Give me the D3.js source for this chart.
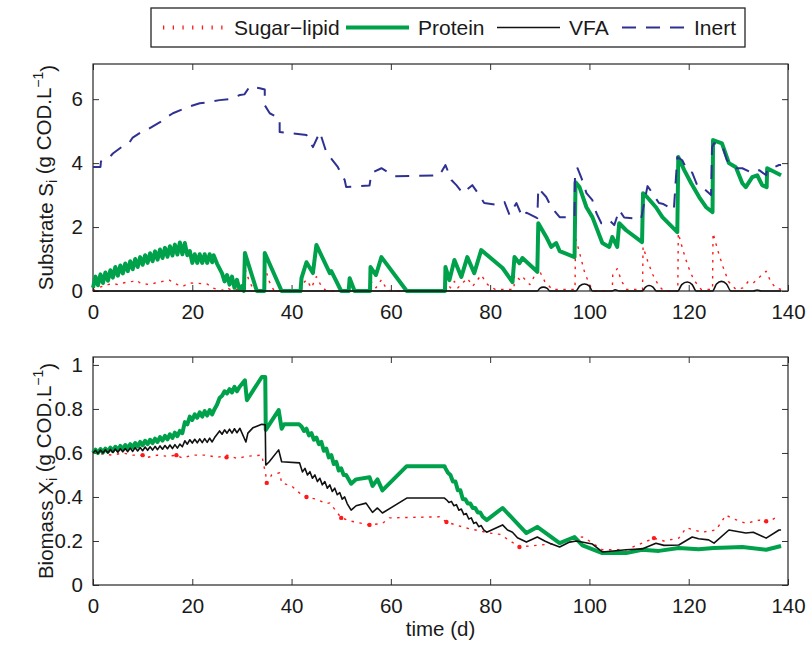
<!DOCTYPE html>
<html>
<head>
<meta charset="utf-8">
<script src="https://cdn.jsdelivr.net/npm/d3@7"></script>
<style>
  body { margin: 0; background: #fff; }
  text { font-family: "Liberation Sans", Arial, Helvetica, sans-serif; fill: #1a1a1a; }
</style>
</head>
<body>
<div id="chart"></div>
<script>
// ---- data: [time (d), value] ----
const xTicks = [0, 20, 40, 60, 80, 100, 120, 140];
const substrateTicks = [0, 2, 4, 6];
const biomassTicks = [0, 0.2, 0.4, 0.6, 0.8, 1];
const legendNames = ["Sugar\u2212lipid", "Protein", "VFA", "Inert"];

const substrateSugar = [
  [0, 0], [1, 0.1], [2, 0.15], [3, 0.2], [4, 0.24], [5, 0.2], [6, 0.25], [7, 0.28], [8, 0.3],
  [8.7, 0.34], [9.5, 0.25], [10.5, 0.22], [11.5, 0.2], [12.5, 0.25], [13.5, 0.28], [14.5, 0.32],
  [15.4, 0.34], [16, 0.28], [17, 0.2], [18, 0.14], [19.5, 0.25], [21, 0.24], [23, 0.22], [24, 0.1],
  [25, 0.05], [26, 0.02], [27, 0.1], [28, 0.02], [29, 0.05], [30.5, 0], [30.6, 0.7], [31.5, 0.3],
  [32.5, 0], [34.5, 0], [34.6, 0.75], [35.5, 0.3], [36.5, 0], [42, 0], [42.1, 0.2], [43, 0.35],
  [44, 0.1], [45, 0.45], [46, 0.15], [47, 0], [55.9, 0], [56, 0.3], [57, 0.1], [58.1, 0.35],
  [59, 0.1], [60, 0], [71, 0], [71.1, 0.3], [72, 0.1], [72.8, 0.3], [73.5, 0.1], [75.4, 0.4],
  [76.5, 0.15], [78.2, 0.5], [79.5, 0.2], [81, 0.05], [84.8, 0.05], [84.9, 0.5], [86, 0.35],
  [86.5, 0.45], [88, 0.2], [89.7, 0.7], [91, 0.3], [92.5, 0.05], [97.1, 0.05], [97.2, 1.66],
  [98, 1.2], [99, 0.6], [100, 0.2], [101, 0], [104.6, 0], [104.7, 0.5], [105.6, 0.7], [106.5, 0.3],
  [107.5, 0.05], [110.7, 0.05], [110.8, 1.38], [111.8, 0.9], [112.8, 0.5], [114, 0.15], [115, 0],
  [117.8, 0], [117.9, 1.81], [118.8, 1.3], [119.8, 0.8], [121, 0.35], [122.5, 0.05], [124.8, 0.05],
  [124.9, 1.81], [125.8, 1.3], [126.8, 0.8], [128, 0.3], [129.5, 0.05], [131, 0.1], [132, 0.3],
  [133, 0.25], [134, 0.4], [135.6, 0.62], [136.5, 0.3], [137.5, 0.1], [138.6, 0.05]
];

const substrateProtein = [
  [0, 0.1], [0.5, 0.45], [1, 0.18], [1.5, 0.52], [2, 0.25], [2.5, 0.58], [3, 0.32], [3.5, 0.65],
  [4, 0.42], [4.5, 0.75], [5, 0.48], [5.5, 0.8], [6, 0.55], [6.5, 0.86], [7, 0.62], [7.5, 0.93],
  [8, 0.68], [8.5, 1.0], [9, 0.75], [9.5, 1.06], [10, 0.82], [10.5, 1.12], [11, 0.88], [11.5, 1.18],
  [12, 0.93], [12.5, 1.24], [13, 0.98], [13.5, 1.3], [14, 1.03], [14.5, 1.35], [15, 1.07], [15.5, 1.4],
  [16, 1.11], [16.5, 1.45], [17, 1.14], [17.5, 1.52], [18, 1.15], [18.5, 1.5], [19, 1.12], [19.5, 1.25],
  [20, 0.88], [20.5, 1.15], [21, 0.88], [21.5, 1.15], [22, 0.88], [22.5, 1.15], [23, 0.88], [23.5, 1.15],
  [24, 0.9], [24.3, 1.12], [25, 0.85], [26, 0.55], [26.5, 0.3], [27, 0.5], [27.5, 0.2], [28, 0.45],
  [28.5, 0.1], [29, 0.35], [29.5, 0.05], [30, 0.15], [30.4, 0], [30.6, 1.19], [33, 0], [34.5, 0],
  [34.6, 1.19], [38, 0], [41.8, 0], [42, 0.4], [43, 0.9], [44.3, 0.56], [45, 1.44], [47.7, 0.56],
  [48, 0.62], [50, 0], [51.5, 0], [51.7, 0.4], [52.7, 0], [55.8, 0], [55.9, 0.75], [57, 0.5],
  [58.1, 1.06], [63.2, 0], [70.9, 0], [71, 0.75], [71.8, 0.34], [72.8, 0.97], [74.2, 0.44],
  [75.4, 1.06], [76.8, 0.56], [78.2, 1.28], [82.5, 0.72], [84.5, 0.28], [84.9, 1.06], [85.9, 0.87],
  [86.5, 1.03], [89.5, 0.6], [89.7, 2.12], [91.3, 1.69], [92.3, 1.38], [93.3, 1.5], [94, 1.25],
  [97, 1.06], [97.2, 3.4], [98, 3.25], [99.4, 2.62], [100.6, 2.31], [102.6, 1.5], [104, 1.38],
  [104.6, 1.69], [105.6, 1.38], [106, 2.12], [107.4, 1.9], [110.6, 1.53], [110.8, 3.06], [111.6, 2.94],
  [113.4, 2.62], [114.7, 2.31], [117.7, 1.84], [117.9, 4.19], [119.1, 3.78], [120.5, 3.37],
  [122.1, 2.94], [123.5, 2.62], [124.8, 2.47], [124.9, 4.72], [126.7, 4.62], [128.1, 4.0],
  [129.5, 3.87], [130.8, 3.37], [131.5, 3.25], [132.8, 3.56], [133.8, 3.62], [134.8, 3.31],
  [135.7, 3.25], [135.8, 3.84], [138.6, 3.62]
];

const substrateVFA = [
  [0, 0], [89.5, 0], [90, 0.08], [90.7, 0.12], [91.5, 0.08], [92, 0], [97.3, 0], [98, 0.15],
  [99, 0.22], [100, 0.15], [100.6, 0], [104.5, 0], [105.2, 0.04], [106, 0], [110.6, 0], [111.3, 0.12],
  [112, 0.17], [112.8, 0.12], [113.5, 0], [117.8, 0], [118.6, 0.2], [119.7, 0.28], [120.7, 0.2],
  [121.5, 0], [124.8, 0], [125.6, 0.22], [126.6, 0.3], [127.6, 0.22], [128.5, 0], [133, 0],
  [133.8, 0.03], [134.6, 0], [138.6, 0]
];

const substrateInert = [
  [0, 3.88], [1.5, 3.88], [1.6, 4.05], [3.4, 4.19], [4, 4.3], [6, 4.53], [7.4, 4.66], [8, 4.8],
  [10, 5.0], [11, 5.05], [13.5, 5.28], [14.5, 5.4], [16.1, 5.56], [18.1, 5.69], [19, 5.75],
  [21.5, 5.87], [23, 5.9], [25.5, 5.97], [27.5, 6.0], [29.6, 6.13], [30.5, 6.15], [31.6, 6.4],
  [33.6, 6.34], [34.6, 6.3], [34.6, 5.81], [35.6, 5.56], [37.6, 5.4], [37.6, 4.97], [43, 4.88],
  [44.3, 4.5], [45.7, 4.97], [47, 4.34], [49.3, 3.88], [50.7, 3.47], [51, 3.25], [55.7, 3.3],
  [56.1, 3.69], [58.1, 3.84], [60.8, 3.59], [69.8, 3.62], [71, 3.94], [72.2, 3.47], [73.2, 3.31],
  [74.5, 3.06], [76.4, 3.31], [77.4, 3.09], [78.8, 2.75], [81.5, 2.69], [82.9, 2.78], [83.9, 2.38],
  [85.3, 2.75], [86.5, 2.31], [87.3, 2.45], [89.5, 2.28], [89.7, 3.22], [91.3, 2.94], [92.3, 2.63],
  [94, 2.31], [97, 2.31], [97.1, 3.78], [97.6, 3.84], [98.4, 3.53], [99.4, 3.06], [100.6, 2.84],
  [101.4, 2.44], [102.4, 2.12], [104, 2.22], [105, 2.06], [106, 2.53], [107, 2.3], [110.4, 2.25],
  [111.7, 3.28], [112.7, 3.06], [114, 2.75], [114.9, 2.72], [117, 2.53], [117.7, 4.19], [118.7, 4.09],
  [119.7, 3.78], [120.7, 3.7], [121.7, 3.31], [122.7, 3.25], [124.5, 3.0], [124.7, 4.5], [125.1, 4.62],
  [126.7, 4.56], [127.7, 4.09], [129.5, 3.84], [130.8, 3.84], [132.8, 3.69], [134.2, 3.78],
  [135.6, 3.62], [135.8, 3.78], [138.2, 3.94], [138.6, 3.94]
];

const biomassSugar = [
  [0, 0.6], [2, 0.595], [4, 0.59], [6, 0.6], [8, 0.59], [10, 0.59], [11, 0.58], [13, 0.59],
  [15, 0.585], [16.8, 0.59], [18, 0.577], [20, 0.59], [22.9, 0.59], [25, 0.58], [27, 0.59],
  [29, 0.575], [31, 0.585], [34, 0.59], [34.8, 0.5], [35, 0.464], [36, 0.5], [37.6, 0.51],
  [38, 0.464], [40, 0.45], [42, 0.41], [43, 0.4], [45, 0.39], [47, 0.37], [47.7, 0.373], [50, 0.305],
  [52, 0.29], [55.7, 0.273], [58.3, 0.28], [59.7, 0.305], [69.8, 0.31], [71.2, 0.286], [75, 0.26],
  [79.9, 0.236], [82, 0.23], [85.9, 0.173], [89.3, 0.18], [94, 0.19], [96, 0.213], [98.6, 0.218],
  [100, 0.2], [102.6, 0.16], [107.4, 0.16], [110.6, 0.19], [113, 0.213], [115, 0.2], [118, 0.213],
  [119.5, 0.26], [122.7, 0.24], [125.5, 0.25], [127.5, 0.318], [128.5, 0.305], [131.5, 0.28],
  [134.2, 0.295], [136, 0.286], [137.8, 0.31]
];

const biomassSugarDots = [
  [10, 0.59], [16.8, 0.59], [26.9, 0.58], [35, 0.464], [43, 0.4], [50, 0.305], [55.7, 0.273],
  [71.2, 0.286], [85.9, 0.173], [113, 0.213], [135.6, 0.29]
];

const biomassProtein = [
  [0, 0.6], [0.5, 0.615], [1, 0.6], [1.5, 0.618], [2, 0.603], [2.5, 0.62], [3, 0.606], [3.5, 0.624],
  [4, 0.609], [4.5, 0.628], [5, 0.613], [5.5, 0.632], [6, 0.617], [6.5, 0.636], [7, 0.621],
  [7.5, 0.64], [8, 0.625], [8.5, 0.645], [9, 0.63], [9.5, 0.65], [10, 0.635], [10.5, 0.655],
  [11, 0.64], [11.5, 0.66], [12, 0.645], [12.5, 0.665], [13, 0.65], [13.5, 0.672], [14, 0.656],
  [14.5, 0.678], [15, 0.662], [15.5, 0.685], [16, 0.668], [16.5, 0.692], [17, 0.676], [17.5, 0.7],
  [18, 0.69], [18.5, 0.74], [19, 0.73], [19.5, 0.765], [20, 0.75], [20.5, 0.775], [21, 0.76],
  [21.5, 0.785], [22, 0.765], [22.5, 0.79], [23, 0.77], [23.5, 0.795], [24, 0.775], [24.5, 0.8],
  [25, 0.82], [25.5, 0.85], [26, 0.86], [26.5, 0.88], [27, 0.87], [27.5, 0.89], [28, 0.875],
  [28.5, 0.9], [29, 0.88], [29.5, 0.9], [30.6, 0.93], [31, 0.84], [34, 0.945], [34.7, 0.945],
  [34.8, 0.705], [37.4, 0.795], [38, 0.71], [38.5, 0.73], [41.5, 0.73], [42, 0.72], [42.5, 0.7],
  [43, 0.71], [43.5, 0.68], [44, 0.69], [44.5, 0.66], [45, 0.67], [45.5, 0.64], [46, 0.65],
  [46.5, 0.61], [47, 0.62], [47.5, 0.58], [48, 0.59], [48.5, 0.55], [49, 0.56], [49.5, 0.52],
  [50, 0.53], [50.5, 0.5], [51, 0.5], [52, 0.46], [53, 0.48], [55.7, 0.49], [56.3, 0.45],
  [57.3, 0.48], [58.3, 0.43], [63.2, 0.54], [70.8, 0.54], [71, 0.53], [71.5, 0.51], [72, 0.5],
  [72.5, 0.47], [73, 0.47], [73.5, 0.43], [74, 0.43], [74.5, 0.39], [75, 0.39], [75.5, 0.37],
  [76, 0.37], [76.5, 0.35], [77, 0.35], [77.5, 0.33], [78, 0.33], [78.5, 0.31], [79.3, 0.295],
  [82.5, 0.35], [87.3, 0.236], [89.5, 0.264], [94, 0.19], [97, 0.218], [98.6, 0.18], [102.6, 0.145],
  [107.4, 0.145], [110.6, 0.16], [114, 0.155], [118, 0.168], [122, 0.162], [125, 0.168], [128, 0.17],
  [130.8, 0.173], [135.6, 0.16], [138.6, 0.177]
];

const biomassVFA = [
  [0, 0.6], [0.5, 0.612], [1, 0.598], [1.5, 0.613], [2, 0.6], [2.5, 0.615], [3, 0.6], [3.5, 0.616],
  [4, 0.602], [4.5, 0.618], [5, 0.603], [5.5, 0.619], [6, 0.605], [6.5, 0.62], [7, 0.606],
  [7.5, 0.622], [8, 0.607], [8.5, 0.624], [9, 0.609], [9.5, 0.625], [10, 0.61], [10.5, 0.627],
  [11, 0.612], [11.5, 0.628], [12, 0.613], [12.5, 0.63], [13, 0.615], [13.5, 0.632], [14, 0.617],
  [14.5, 0.634], [15, 0.619], [15.5, 0.636], [16, 0.62], [16.5, 0.638], [17, 0.622], [17.5, 0.64],
  [18, 0.628], [18.5, 0.655], [19, 0.64], [19.5, 0.66], [20, 0.645], [20.5, 0.662], [21, 0.646],
  [21.5, 0.664], [22, 0.647], [22.5, 0.665], [23, 0.648], [23.5, 0.667], [24, 0.65], [24.5, 0.67],
  [25, 0.685], [25.5, 0.7], [26, 0.685], [26.5, 0.705], [27, 0.69], [27.5, 0.708], [28, 0.69],
  [28.5, 0.71], [29, 0.692], [29.6, 0.712], [30.8, 0.65], [31.2, 0.69], [32.2, 0.714], [34, 0.73],
  [34.7, 0.728], [34.8, 0.545], [35.5, 0.56], [37.4, 0.614], [38, 0.56], [41.6, 0.555], [42.2, 0.514],
  [42.7, 0.53], [43.2, 0.5], [43.7, 0.515], [44.2, 0.485], [44.7, 0.5], [45.2, 0.47], [45.7, 0.485],
  [46.2, 0.455], [46.7, 0.47], [47.2, 0.44], [47.7, 0.455], [48.2, 0.425], [48.7, 0.44], [49.2, 0.41],
  [49.7, 0.42], [50.2, 0.39], [50.7, 0.4], [51.2, 0.37], [52, 0.34], [53, 0.36], [55, 0.372],
  [56.3, 0.33], [57.3, 0.35], [58.3, 0.327], [63.2, 0.395], [70.8, 0.395], [71.3, 0.385],
  [71.7, 0.375], [72.2, 0.38], [72.7, 0.36], [73.2, 0.365], [73.7, 0.34], [74.2, 0.345], [74.7, 0.32],
  [75.2, 0.325], [75.7, 0.3], [76.2, 0.305], [76.7, 0.28], [77.2, 0.285], [77.7, 0.265], [78.2, 0.27],
  [78.7, 0.25], [79.3, 0.24], [82.5, 0.273], [83.5, 0.25], [84.5, 0.24], [85.5, 0.215], [87.3, 0.195],
  [89.5, 0.218], [91, 0.2], [92, 0.19], [94, 0.173], [96, 0.195], [97.4, 0.2], [100.6, 0.186],
  [102.6, 0.15], [107.4, 0.16], [110.6, 0.164], [113.4, 0.19], [115, 0.18], [118, 0.182],
  [120.7, 0.218], [122, 0.21], [124, 0.205], [125.1, 0.19], [128.1, 0.25], [131.5, 0.236],
  [133, 0.24], [135.6, 0.213], [138.2, 0.25], [138.6, 0.25]
];

// ---- styles ----
const green = "#00a14b";
const blue = "#2e3192";
const red = "#ff1a1a";
const fontSize = 20.5;
const fontFamily = "Liberation Sans, Arial, Helvetica, sans-serif";

const width = 809, height = 650;
const svg = d3.select("#chart").append("svg")
  .attr("width", width).attr("height", height);

const x = d3.scaleLinear().domain([0, 140]).range([93, 788]);
const ySub = d3.scaleLinear().domain([0, 7.1]).range([291, 64]);
const yBio = d3.scaleLinear().domain([0, 1.036]).range([585, 357]);

const styles = {
  sugar: { stroke: red, width: 1.4, dash: "2.5,5.5" },
  protein: { stroke: green, width: 4, dash: null },
  vfa: { stroke: "#111", width: 1.6, dash: null },
  inert: { stroke: blue, width: 2, dash: "14,10" }
};

function drawAxes(y, ticks, fmt) {
  const top = y.range()[1], bottom = y.range()[0];
  const g = svg.append("g");

  g.append("g").attr("transform", `translate(0,${bottom})`)
    .call(d3.axisBottom(x).tickValues(xTicks).tickSizeInner(-6).tickSizeOuter(0).tickPadding(13));
  g.append("g").attr("transform", `translate(0,${top})`)
    .call(d3.axisTop(x).tickValues(xTicks).tickSizeInner(-6).tickSizeOuter(0).tickFormat(""));
  g.append("g").attr("transform", `translate(${x.range()[0]},0)`)
    .call(d3.axisLeft(y).tickValues(ticks).tickSizeInner(-6).tickSizeOuter(0).tickPadding(10).tickFormat(fmt));
  g.append("g").attr("transform", `translate(${x.range()[1]},0)`)
    .call(d3.axisRight(y).tickValues(ticks).tickSizeInner(-6).tickSizeOuter(0).tickFormat(""));

  g.selectAll(".domain").remove();
  g.selectAll(".tick line").attr("stroke", "#333").attr("stroke-width", 1);
  g.selectAll(".tick text")
    .attr("fill", "#1a1a1a")
    .attr("font-size", fontSize)
    .attr("font-family", fontFamily);

  svg.append("rect")
    .attr("x", x.range()[0]).attr("y", top)
    .attr("width", x.range()[1] - x.range()[0]).attr("height", bottom - top)
    .attr("fill", "none").attr("stroke", "#262626").attr("stroke-width", 1.2);
}

function drawSeries(y, data, st, curve) {
  const line = d3.line()
    .x(d => x(d[0]))
    .y(d => y(d[1]))
    .curve(curve || d3.curveLinear);
  svg.append("path")
    .datum(data)
    .attr("d", line)
    .attr("fill", "none")
    .attr("stroke", st.stroke)
    .attr("stroke-width", st.width)
    .attr("stroke-dasharray", st.dash)
    .attr("stroke-linejoin", "round");
}

function yLabel(cy, main, sub) {
  const t = svg.append("text")
    .attr("transform", `translate(53,${cy}) rotate(-90)`)
    .attr("text-anchor", "middle")
    .attr("font-size", fontSize);
  t.append("tspan").text(main + " ");
  t.append("tspan").text(sub.charAt(0));
  t.append("tspan").attr("dy", "0.3em").attr("font-size", 14).text("i");
  t.append("tspan").attr("dy", "-0.3em").text(" (g COD.L");
  t.append("tspan").attr("dy", "-0.55em").attr("font-size", 14).text("\u22121");
  t.append("tspan").attr("dy", "0.55em").text(")");
}

// ---- substrate panel ----
drawAxes(ySub, substrateTicks, d3.format("d"));
drawSeries(ySub, substrateSugar, styles.sugar);
drawSeries(ySub, substrateProtein, styles.protein);
drawSeries(ySub, substrateVFA, styles.vfa, d3.curveMonotoneX);
drawSeries(ySub, substrateInert, styles.inert);
yLabel((ySub.range()[0] + ySub.range()[1]) / 2, "Substrate", "S");

// ---- biomass panel ----
drawAxes(yBio, biomassTicks, d => d === 0 || d === 1 ? String(d) : d.toFixed(1));
drawSeries(yBio, biomassSugar, styles.sugar);
svg.append("g").selectAll("circle")
  .data(biomassSugarDots)
  .join("circle")
  .attr("cx", d => x(d[0]))
  .attr("cy", d => yBio(d[1]))
  .attr("r", 2.2)
  .attr("fill", red);
drawSeries(yBio, biomassProtein, styles.protein);
drawSeries(yBio, biomassVFA, styles.vfa);
yLabel((yBio.range()[0] + yBio.range()[1]) / 2, "Biomass", "X");

svg.append("text")
  .attr("x", (x.range()[0] + x.range()[1]) / 2)
  .attr("y", 636)
  .attr("text-anchor", "middle")
  .attr("font-size", fontSize)
  .text("time (d)");

// ---- legend ----
const legend = svg.append("g").attr("font-size", 21);
legend.append("rect")
  .attr("x", 151).attr("y", 8).attr("width", 594).attr("height", 39)
  .attr("fill", "#fff").attr("stroke", "#262626").attr("stroke-width", 1.3);

const legendItems = [
  { name: legendNames[0], st: styles.sugar, x0: 163, x1: 223, tx: 234 },
  { name: legendNames[1], st: styles.protein, x0: 346, x1: 409, tx: 418 },
  { name: legendNames[2], st: styles.vfa, x0: 497, x1: 560, tx: 569 },
  { name: legendNames[3], st: styles.inert, x0: 622, x1: 689, tx: 694 }
];
legendItems.forEach(item => {
  legend.append("line")
    .attr("x1", item.x0).attr("x2", item.x1)
    .attr("y1", 27.5).attr("y2", 27.5)
    .attr("stroke", item.st.stroke)
    .attr("stroke-width", item.st === styles.sugar ? 4 : item.st.width)
    .attr("stroke-dasharray", item.st === styles.sugar ? "1.3,8.4" : item.st.dash);
  legend.append("text")
    .attr("x", item.tx).attr("y", 35)
    .text(item.name);
});
</script>
</body>
</html>
